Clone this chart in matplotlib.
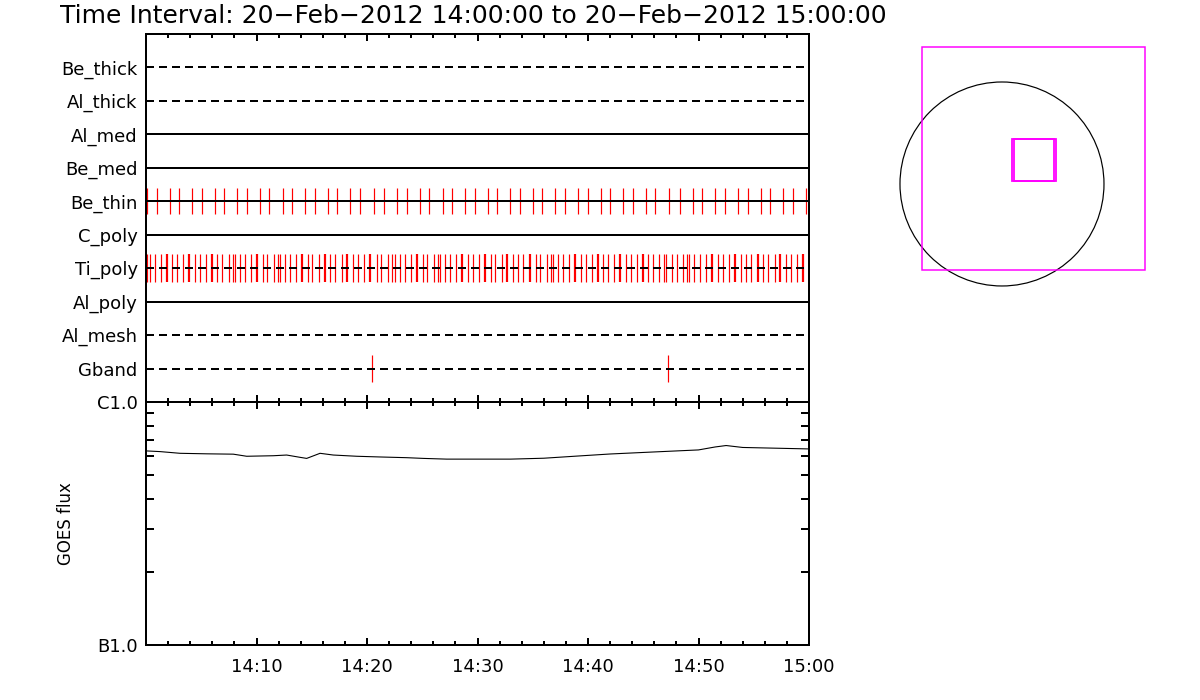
#!/usr/bin/env python3
"""Quicklook of RHESSI-style attenuator/filter events with GOES flux, 20-Feb-2012."""

import matplotlib

matplotlib.use("Agg")
import matplotlib.pyplot as plt
from matplotlib.patches import Circle, Rectangle
from matplotlib.ticker import FixedLocator, MultipleLocator, NullFormatter
import numpy as np


TITLE = "Time Interval: 20\u2212Feb\u22122012 14:00:00 to 20\u2212Feb\u22122012 15:00:00"

# channels from top to bottom
channels = ["Be_thick", "Al_thick", "Al_med", "Be_med", "Be_thin",
            "C_poly", "Ti_poly", "Al_poly", "Al_mesh", "Gband"]

# event times, minutes after 14:00
be_thin_events = [
    0.12, 1.02, 2.20, 3.00, 4.19, 5.09, 6.27, 7.09, 8.26, 9.16, 10.34, 11.16,
    12.43, 13.24, 14.42, 15.32, 16.50, 17.31, 18.49, 19.39, 20.66, 21.57,
    22.74, 23.65, 24.82, 25.63, 26.90, 27.71, 28.89, 29.80, 30.98, 31.79,
    32.97, 33.87, 35.05, 35.86, 37.04, 37.95, 39.12, 40.03, 41.20, 42.02,
    43.20, 44.10, 45.28, 46.09, 47.36, 48.35, 49.53, 50.34, 51.52, 52.43,
    53.60, 54.50, 55.68, 56.50, 57.67, 58.58, 59.76,
]
ti_poly_events = [
    0.05, 0.39, 0.81, 1.38, 2.38, 2.83, 3.38, 4.46, 4.91, 5.46, 6.45, 6.90,
    7.54, 7.90, 8.08, 8.53, 8.99, 9.53, 10.62, 10.98, 11.61, 11.97, 12.15,
    12.61, 13.06, 13.60, 14.69, 15.05, 15.68, 16.68, 17.13, 17.76, 18.76,
    19.21, 19.76, 20.93, 21.29, 21.93, 22.29, 22.56, 23.01, 23.47, 24.01,
    25.10, 25.46, 26.09, 26.45, 26.63, 27.09, 27.54, 28.08, 29.17, 29.62,
    30.16, 31.25, 31.61, 32.24, 33.24, 33.69, 34.14, 35.32, 35.68, 36.32,
    36.68, 36.86, 37.31, 37.76, 38.31, 39.39, 39.85, 40.39, 41.38, 41.84,
    42.38, 43.47, 43.92, 44.46, 45.46, 45.91, 46.45, 46.91, 47.09, 47.63,
    48.08, 48.62, 48.99, 49.17, 49.62, 50.16, 50.71, 51.79, 52.24, 52.79,
    53.87, 54.33, 54.78, 55.86, 56.32, 56.95, 57.95, 58.40, 58.94, 60.00,
]
# Ti_poly events that come in close pairs (drawn as wider marks)
ti_poly_pairs = [
    1.88, 3.87, 5.95, 10.03, 14.10, 16.20, 18.19, 20.27, 24.52, 28.60,
    30.68, 32.67, 34.73, 38.82, 40.90, 42.90, 44.98, 51.22, 53.29, 55.37,
    57.36, 59.44,
]
gband_events = [20.45, 47.24]

# GOES 1-8 A flux (W/m^2)
goes_minutes = [
    0.06, 1.27, 3.08, 5.49, 7.90, 9.11, 11.52, 12.73, 13.94, 14.54, 15.75,
    16.95, 19.07, 21.18, 23.59, 25.10, 27.21, 30.23, 33.0, 36.0, 39.0, 42.0,
    45.0, 48.0, 50.0, 51.5, 52.5, 54.0, 56.0, 58.0, 60.0,
]
goes_flux = [
    6.29e-7, 6.25e-7, 6.15e-7, 6.12e-7, 6.10e-7, 5.98e-7, 6.01e-7, 6.05e-7,
    5.92e-7, 5.86e-7, 6.15e-7, 6.05e-7, 5.98e-7, 5.94e-7, 5.90e-7, 5.86e-7,
    5.82e-7, 5.82e-7, 5.82e-7, 5.87e-7, 5.99e-7, 6.11e-7, 6.20e-7, 6.29e-7,
    6.35e-7, 6.53e-7, 6.62e-7, 6.50e-7, 6.47e-7, 6.44e-7, 6.41e-7,
]
goes_ticks = [1e-7, 1e-6]
goes_tick_labels = ["B1.0", "C1.0"]
time_ticks = [10, 20, 30, 40, 50, 60]
time_tick_labels = ["14:10", "14:20", "14:30", "14:40", "14:50", "15:00"]

# solar disk and fields of view, arcsec
sun_radius = 975.0
fov_center = (300.0, 240.0)
fov_size = 2130.0
sub_centers = [(300.0, 232.0), (318.0, 226.0)]
sub_size = 400.0

DASHED = {"Be_thick", "Al_thick", "Ti_poly", "Al_mesh", "Gband"}
PX = 72.0 / 100.0  # points per pixel at dpi 100


def style_time_axis(axis):
    axis.set_xlim(0, 60)
    axis.xaxis.set_major_locator(FixedLocator(time_ticks))
    axis.xaxis.set_minor_locator(MultipleLocator(2))
    axis.tick_params(axis="x", which="both", direction="in", top=True,
                     bottom=True, width=2 * PX)
    axis.tick_params(axis="x", which="major", length=7 * PX)
    axis.tick_params(axis="x", which="minor", length=4 * PX)
    for spine in axis.spines.values():
        spine.set_linewidth(2 * PX)


plt.rcParams["font.family"] = ["DejaVu Sans"]
figure = plt.figure(figsize=(12, 7), dpi=100)

# event panel
events_ax = figure.add_axes([146 / 1200, 1 - 402 / 700, 663 / 1200, 368 / 700])
style_time_axis(events_ax)
events_ax.tick_params(axis="x", labelbottom=False)
events_ax.set_ylim(11, 0)
rows = np.arange(1, len(channels) + 1)
events_ax.set_yticks(rows, channels, fontsize=13)
events_ax.tick_params(axis="y", length=0, pad=6)

half = 0.39
for row, name in zip(rows, channels):
    if name in DASHED:
        events_ax.plot([0, 60], [row, row], color="black", lw=2 * PX,
                       dashes=(4, 2.5), zorder=3)
    else:
        events_ax.plot([0, 60], [row, row], color="black", lw=2 * PX, zorder=3)

row_of = dict(zip(channels, rows))
events_ax.vlines(be_thin_events, row_of["Be_thin"] - half,
                 row_of["Be_thin"] + half, color="red", lw=1.2 * PX)
events_ax.vlines(ti_poly_events, row_of["Ti_poly"] - 0.41,
                 row_of["Ti_poly"] + 0.41, color="red", lw=1.2 * PX)
events_ax.vlines(ti_poly_pairs, row_of["Ti_poly"] - 0.41,
                 row_of["Ti_poly"] + 0.41, color="red", lw=2.2 * PX)
events_ax.vlines(gband_events, row_of["Gband"] - half,
                 row_of["Gband"] + half, color="red", lw=1.2 * PX)

# GOES panel
goes_ax = figure.add_axes([146 / 1200, 1 - 645 / 700, 663 / 1200, 243 / 700])
style_time_axis(goes_ax)
goes_ax.set_xticklabels(time_tick_labels, fontsize=13)
goes_ax.tick_params(axis="x", pad=9)
goes_ax.set_yscale("log")
goes_ax.set_ylim(1e-7, 1e-6)
goes_ax.yaxis.set_major_locator(FixedLocator(goes_ticks))
goes_ax.set_yticklabels(goes_tick_labels, fontsize=13)
goes_ax.yaxis.set_minor_locator(
    FixedLocator([m * 1e-7 for m in range(2, 10)]))
goes_ax.yaxis.set_minor_formatter(NullFormatter())
goes_ax.tick_params(axis="y", which="both", direction="in", left=True,
                    right=True, width=2 * PX, pad=6)
goes_ax.tick_params(axis="y", which="minor", length=8 * PX)
goes_ax.plot(goes_minutes, goes_flux, color="black", lw=1.1 * PX)
goes_ax.set_ylabel("GOES flux", fontsize=12, labelpad=16)

figure.text(60 / 1200, 1 - 16 / 700, TITLE, fontsize=18, va="center",
            ha="left")

# solar locator panel
sun_ax = figure.add_axes([880 / 1200, 1 - 300 / 700, 290 / 1200, 270 / 700])
sun_ax.set_xlim(-1166, 1606)
sun_ax.set_ylim(-1109, 1472)
sun_ax.axis("off")
sun_ax.add_patch(Circle((0, 0), sun_radius, fill=False, color="black",
                        lw=1.2 * PX))
sun_ax.add_patch(Rectangle((fov_center[0] - fov_size / 2,
                            fov_center[1] - fov_size / 2),
                           fov_size, fov_size, fill=False,
                           edgecolor="magenta", lw=1.5 * PX))
for cx, cy in sub_centers:
    sun_ax.add_patch(Rectangle((cx - sub_size / 2, cy - sub_size / 2),
                               sub_size, sub_size, fill=False,
                               edgecolor="magenta", lw=1.8 * PX))

figure.savefig("out.png", dpi=100)
